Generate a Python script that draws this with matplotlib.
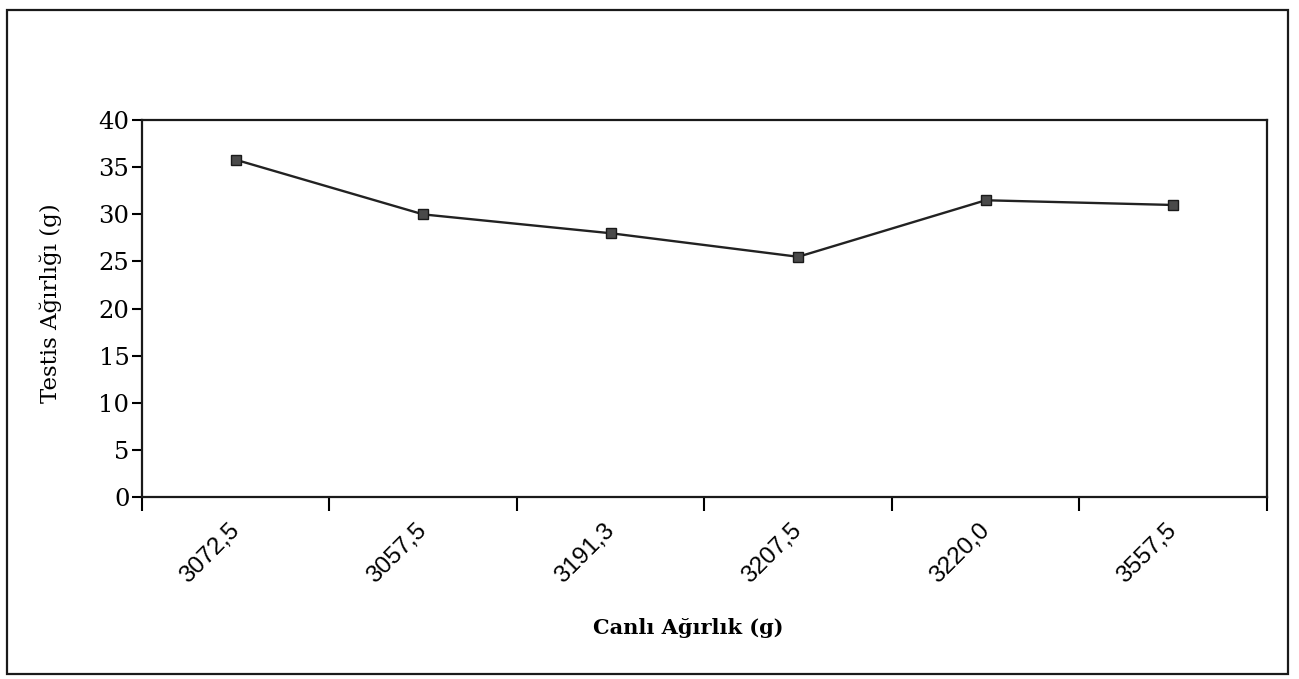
import matplotlib
matplotlib.use("Agg")
import matplotlib.pyplot as plt
import matplotlib.transforms as mtransforms
from matplotlib.patches import Rectangle

# data
categories = ["3072,5", "3057,5", "3191,3", "3207,5", "3220,0", "3557,5"]
testis_weight = [35.8, 30.0, 28.0, 25.5, 31.5, 31.0]
y_ticks = [0, 5, 10, 15, 20, 25, 30, 35, 40]

fig = plt.figure(figsize=(12.99, 6.79), dpi=100)
ax = fig.add_axes([0.1093, 0.268, 0.866, 0.555])

x = list(range(len(categories)))
ax.plot(x, testis_weight, color="#222222", lw=1.7, marker="s", ms=7,
        mfc="#4a4a4a", mec="#1a1a1a", mew=1)

ax.set_xlim(-0.5, len(categories) - 0.5)
ax.set_ylim(0, 40)

# Excel-style category axis: ticks on boundaries, labels in between
ax.set_xticks([i - 0.5 for i in range(len(categories) + 1)])
ax.set_xticklabels([])
ax.tick_params(axis="x", which="major", direction="out", length=10, width=1.5)
ax.set_xticks(x, minor=True)
ax.set_xticklabels(categories, minor=True, rotation=45, ha="right",
                   family="Liberation Sans", fontsize=17.5)
ax.tick_params(axis="x", which="minor", length=0, pad=16)
shift = mtransforms.ScaledTranslation(8 / 100, 0, fig.dpi_scale_trans)
for lbl in ax.get_xticklabels(minor=True):
    lbl.set_transform(lbl.get_transform() + shift)

ax.set_yticks(y_ticks)
ax.set_yticklabels([str(v) for v in y_ticks], family="DejaVu Serif", fontsize=17.5)
ax.tick_params(axis="y", direction="out", length=7, width=1.5, pad=2)

for s in ax.spines.values():
    s.set_linewidth(1.6)
    s.set_color("#1a1a1a")

fig.text(0.039, 1 - 303 / 679, "Testis Ağırlığı (g)", rotation=90,
         family="DejaVu Serif", fontsize=16.5, ha="center", va="center")
fig.text(688 / 1299, 1 - 628 / 679, "Canlı Ağırlık (g)", family="DejaVu Serif",
         fontweight="bold", fontsize=15, ha="center", va="center")

# outer frame of the figure
fig.patches.append(Rectangle((7 / 1299, 5 / 679), 1281 / 1299, 664 / 679,
                             transform=fig.transFigure, fill=False,
                             lw=1.6, ec="#1a1a1a"))

fig.savefig("out.png", dpi=100)
